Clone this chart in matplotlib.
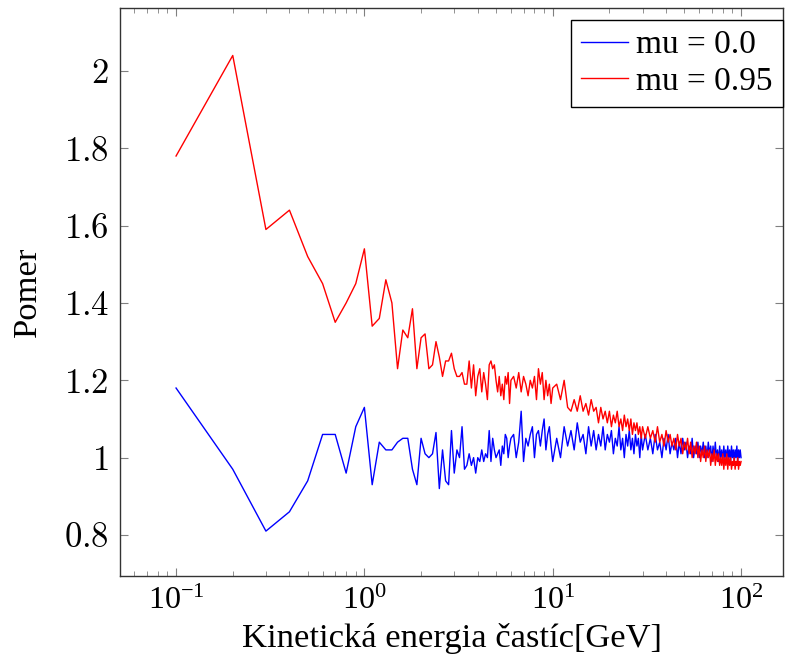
import numpy as np
import matplotlib
matplotlib.use("Agg")
import matplotlib.pyplot as plt
from matplotlib.ticker import FixedLocator, FixedFormatter, LogLocator, NullFormatter

# energy grid [GeV]
energy = np.concatenate([
    np.arange(1, 31) / 10,          # 0.1 .. 3.0
    np.arange(31, 61) / 10,         # 3.1 .. 6.0
    np.arange(31, 51) / 5,          # 6.2 .. 10.0
    np.arange(21, 61) / 2,          # 10.5 .. 30
    np.arange(31, 101) * 1.0,       # 31 .. 100
])

ratio_mu0 = [
    1.18, 0.97, 0.81, 0.86, 0.94, 1.06, 1.06, 0.96, 1.08, 1.13,
    0.93, 1.04, 1.02, 1.02, 1.04, 1.05, 1.05, 0.97, 0.93, 1.05,
    1.01, 1.00, 1.01, 1.065, 0.92, 1.02, 0.94, 0.93, 1.07, 0.96,
    # 3.1 .. 6.0
    1.02, 1.00, 1.08, 0.97, 0.98, 1.01, 0.98, 1.00, 0.96, 1.00,
    0.99, 1.02, 0.99, 1.01, 1.00, 1.07, 0.99, 1.05, 1.02, 1.00,
    1.01, 1.02, 0.98, 1.03, 1.01, 1.06, 1.05, 1.00, 1.03, 1.05,
    # 6.2 .. 10
    1.06, 1.00, 1.04, 1.12, 0.99, 1.05, 1.03, 1.06, 1.08, 1.00,
    1.06, 1.07, 1.03, 1.07, 1.10, 1.02, 1.06, 1.08, 1.03, 0.99,
    # 10.5 .. 30
    1.05, 1.00, 1.08, 1.03, 1.07, 1.02, 1.09, 1.04, 1.06, 1.01,
    1.08, 1.03, 1.07, 1.02, 1.06, 1.03, 1.08, 1.02, 1.06, 1.04,
    1.07, 1.01, 1.05, 1.03, 1.08, 1.02, 1.05, 1.00, 1.06, 1.03,
    1.07, 1.02, 1.05, 1.01, 1.06, 1.03, 1.05, 1.00, 1.06, 1.02,
    # 31 .. 100
    1.06, 1.02, 1.05, 1.01, 1.06, 1.02, 1.04, 1.00, 1.05, 1.02,
    1.06, 1.01, 1.04, 1.02, 1.05, 1.00, 1.04, 1.01, 1.05, 1.02,
    1.04, 1.00, 1.03, 1.01, 1.05, 1.00, 1.03, 1.01, 1.04, 1.00,
    1.03, 1.01, 1.04, 1.00, 1.03, 1.00, 1.04, 1.01, 1.03, 0.99,
    1.03, 1.00, 1.04, 1.00, 1.02, 0.99, 1.03, 1.00, 1.02, 0.99,
    1.03, 1.00, 1.02, 0.99, 1.03, 1.00, 1.02, 0.99, 1.03, 1.00,
    1.02, 0.99, 1.02, 1.00, 1.03, 0.99, 1.02, 1.00, 1.02, 1.00,
]

ratio_mu095 = [
    1.78, 2.04, 1.59, 1.64, 1.52, 1.45, 1.35, 1.40, 1.45, 1.54,
    1.34, 1.36, 1.46, 1.40, 1.23, 1.33, 1.31, 1.385, 1.23, 1.31,
    1.32, 1.23, 1.24, 1.30, 1.26, 1.21, 1.25, 1.25, 1.27, 1.23,
    # 3.1 .. 6.0
    1.21, 1.21, 1.22, 1.19, 1.19, 1.25, 1.18, 1.24, 1.16, 1.21,
    1.23, 1.17, 1.22, 1.19, 1.15, 1.24, 1.25, 1.23, 1.24, 1.20,
    1.17, 1.21, 1.16, 1.19, 1.15, 1.21, 1.19, 1.22, 1.14, 1.20,
    # 6.2 .. 10
    1.21, 1.18, 1.22, 1.17, 1.21, 1.19, 1.16, 1.20, 1.18, 1.21,
    1.15, 1.23, 1.19, 1.22, 1.15, 1.20, 1.16, 1.19, 1.14, 1.18,
    # 10.5 .. 30
    1.19, 1.15, 1.20, 1.13, 1.12, 1.15, 1.12, 1.16, 1.12, 1.14,
    1.11, 1.15, 1.12, 1.13, 1.09, 1.13, 1.10, 1.12, 1.09, 1.12,
    1.08, 1.11, 1.09, 1.12, 1.08, 1.10, 1.07, 1.11, 1.08, 1.10,
    1.07, 1.10, 1.06, 1.09, 1.07, 1.09, 1.06, 1.08, 1.05, 1.08,
    # 31 .. 100
    1.05, 1.08, 1.05, 1.07, 1.04, 1.08, 1.04, 1.06, 1.03, 1.07,
    1.04, 1.06, 1.03, 1.05, 1.02, 1.06, 1.03, 1.05, 1.01, 1.04,
    1.02, 1.05, 1.01, 1.04, 1.00, 1.03, 1.01, 1.04, 1.00, 1.03,
    0.99, 1.02, 1.00, 1.03, 0.99, 1.02, 1.00, 1.02, 0.98, 1.01,
    0.99, 1.02, 0.98, 1.01, 0.99, 1.01, 0.98, 1.00, 0.98, 1.01,
    0.97, 1.00, 0.98, 1.01, 0.97, 1.00, 0.98, 1.00, 0.97, 0.99,
    0.98, 1.00, 0.97, 0.99, 0.98, 1.00, 0.97, 0.99, 0.98, 0.99,
]

labels = ['mu = 0.0', 'mu = 0.95']
yticks = [0.8, 1.0, 1.2, 1.4, 1.6, 1.8, 2.0]
ytick_labels = ['0.8', '1', '1.2', '1.4', '1.6', '1.8', '2']

plt.rcParams['mathtext.fontset'] = 'cm'
plt.rcParams['font.family'] = ['Liberation Serif', 'DejaVu Serif']

fig = plt.figure(figsize=(7.87, 6.59), dpi=100)
ax = fig.add_axes([0.1525, 0.126, 0.8424, 0.862])

ax.plot(energy, ratio_mu0, color='blue', lw=1.0, label=labels[0])
ax.plot(energy, ratio_mu095, color='red', lw=1.0, label=labels[1])

ax.set_xscale('log')
ax.set_xlim(0.0504, 167)
ax.set_ylim(0.694, 2.163)

ax.xaxis.set_major_locator(LogLocator(base=10, numticks=10))
ax.xaxis.set_minor_locator(LogLocator(base=10, subs=np.arange(2, 10), numticks=20))
ax.xaxis.set_minor_formatter(NullFormatter())
ax.yaxis.set_major_locator(FixedLocator(yticks))
ax.yaxis.set_major_formatter(FixedFormatter(['$' + t + '$' for t in ytick_labels]))

ax.tick_params(which='both', direction='in', top=True, right=True, color='#808080')
ax.tick_params(which='major', length=6, width=0.8, pad=8)
ax.tick_params(axis='x', which='major', labelsize=23)
ax.tick_params(axis='y', which='major', labelsize=25)
ax.tick_params(which='minor', length=3.5, width=0.6)
for s in ax.spines.values():
    s.set_linewidth(1.0)
    s.set_color('#333333')

ax.set_xlabel('Kinetická energia častíc[GeV]', fontsize=24.8, labelpad=5)
ax.set_ylabel('Pomer', fontsize=24.8, labelpad=15)

leg = ax.legend(loc='upper right', bbox_to_anchor=(1.0, 0.979), fontsize=24,
                frameon=True, fancybox=False, edgecolor='black', framealpha=1,
                handlelength=1.4, handletextpad=0.25, borderpad=0.3,
                borderaxespad=0.0, labelspacing=0.18)
leg.get_frame().set_linewidth(1.0)

fig.savefig('out.png', dpi=100)
